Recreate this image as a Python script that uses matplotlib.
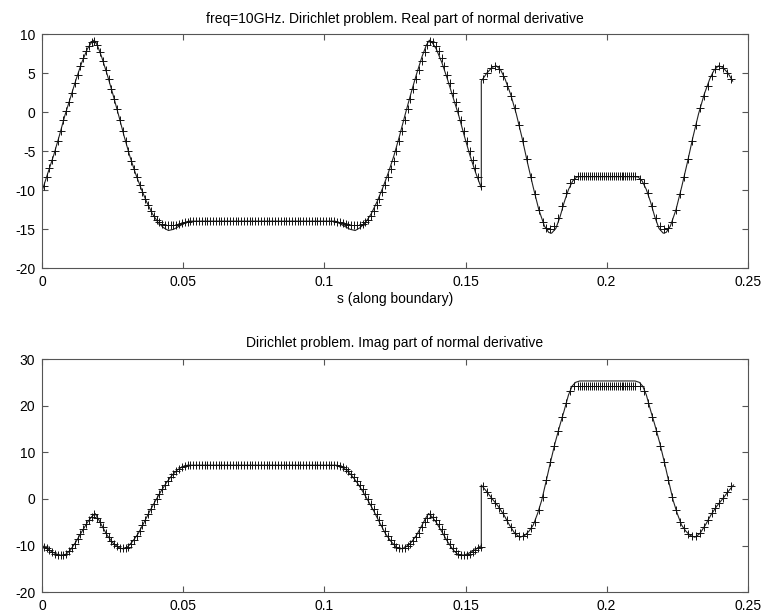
import numpy as np
import matplotlib
matplotlib.use("Agg")
import matplotlib.pyplot as plt

plt.rcParams['font.family'] = ['Liberation Sans', 'DejaVu Sans']
plt.rcParams['axes.unicode_minus'] = False

# ---------------------------------------------------------------------------
# Reference (continuous) solution: knots along the boundary coordinate s
# ---------------------------------------------------------------------------
line_s_re = [0, .002, .004, .006, .008, .010, .012, .014, .016, .0175, .0184, .0195,
             .021, .023, .025, .027, .029, .031, .033, .035, .037, .039,
             .041, .043, .0447, .0465, .048, .050, .0518,
             .1038, .1056, .1076, .1091, .1109, .1126, .1146, .1166, .1186, .1206,
             .1226, .1246, .1266, .1286, .1306, .1326, .1346, .1361, .1372, .1381,
             .1396, .1416, .1436, .1456, .1476, .1496, .1516, .1536, .1556,
             .1556, .1575, .1595, .161, .1625, .164, .166, .168, .170, .172,
             .174, .176, .178, .1795, .1805, .182, .1835, .185, .1865, .188, .1894, .1905,
             .2101, .2112, .2126, .2141, .2156, .2171, .2186, .2201, .2211, .2226,
             .2246, .2266, .2286, .2306, .2326, .2346, .2366, .2381, .2396, .2411, .2431, .2447]
line_re = [-10, -7.75, -5.55, -3.05, -0.4, 1.9, 4.25, 6.4, 8.15, 9.0, 9.25, 8.6,
           7.15, 4.85, 2.35, -0.3, -3.05, -5.6, -7.8, -9.75, -11.5, -13.0,
           -14.1, -14.8, -15.15, -15.0, -14.7, -14.3, -13.95,
           -13.95, -14.3, -14.7, -15.0, -15.15, -14.8, -14.1, -13.0, -11.5, -9.75,
           -7.8, -5.6, -3.05, -0.3, 2.35, 4.85, 7.15, 8.6, 9.25, 9.0,
           8.15, 6.4, 4.25, 1.9, -0.4, -3.05, -5.55, -7.75, -9.7,
           4.0, 5.0, 5.8, 5.95, 5.4, 4.3, 2.3, -0.2, -3.2, -6.5,
           -9.6, -12.5, -14.6, -15.4, -15.5, -14.9, -13.4, -11.5, -9.9, -8.8, -8.3, -8.25,
           -8.25, -8.3, -8.8, -9.9, -11.5, -13.4, -14.9, -15.5, -15.4, -14.6,
           -12.5, -9.6, -6.5, -3.2, -0.2, 2.3, 4.3, 5.4, 5.95, 5.8, 5.0, 4.0]

line_s_im = [0, .002, .004, .0055, .007, .0085, .010, .012, .014, .016,
             .0175, .0187, .0198, .021, .023, .025, .027, .0287, .030, .032,
             .034, .036, .038, .040, .042, .044, .046, .048, .050, .0515,
             .1041, .1056, .1076, .1096, .1116, .1136, .1156, .1176, .1196, .1216,
             .1236, .1256, .1269, .1286, .1306, .1326, .1346, .1358, .1369, .1381,
             .1396, .1416, .1436, .1456, .1471, .1486, .1501, .1516, .1536, .1556,
             .1556, .1575, .1595, .1615, .1635, .1655, .1675, .1693, .171, .1725,
             .174, .1755, .177, .1785, .180, .1817, .1835, .185, .1865, .1878, .189, .1905,
             .2101, .2116, .2128, .2141, .2156, .2171, .2189, .2206, .2221, .2236,
             .2251, .2266, .2281, .2296, .2313, .2331, .2351, .2371, .2391, .2411, .2431, .2450]
line_im = [-10.0, -10.8, -11.5, -11.9, -12.1, -11.8, -10.9, -9.1, -7.0, -5.0,
           -3.8, -3.1, -4.2, -5.6, -7.8, -9.4, -10.4, -10.7, -10.4, -9.1,
           -7.4, -5.1, -2.7, -0.5, 1.6, 3.5, 5.1, 6.3, 7.0, 7.25,
           7.25, 7.0, 6.3, 5.1, 3.5, 1.6, -0.5, -2.7, -5.1, -7.4,
           -9.1, -10.4, -10.7, -10.4, -9.4, -7.8, -5.6, -4.2, -3.1, -3.8,
           -5.0, -7.0, -9.1, -10.9, -11.8, -12.1, -11.9, -11.5, -10.8, -10.0,
           3.0, 1.6, 0.0, -1.5, -3.3, -5.5, -7.4, -8.2, -7.8, -6.9,
           -5.6, -3.2, -0.3, 3.6, 7.6, 11.9, 15.9, 19.0, 22.3, 24.2, 25.0, 25.3,
           25.3, 25.0, 24.2, 22.3, 19.0, 15.9, 11.9, 7.6, 3.6, -0.3,
           -3.2, -5.6, -6.9, -7.8, -8.2, -7.4, -5.5, -3.3, -1.5, 0.0, 1.6, 3.0]

# ---------------------------------------------------------------------------
# Numerical solution at the boundary nodes ('+' markers)
# ---------------------------------------------------------------------------
# first contour: nodes every 1 mm starting at 0.5 mm
node_re_1 = ([-9.4, -8.3, -7.2, -6.1, -5.0, -3.7, -2.4, -1.0, 0.2, 1.3,
              2.5, 3.7, 4.8, 5.9, 6.9, 7.8, 8.5, 9.0, 9.1, 8.6,
              7.7, 6.6, 5.4, 4.3, 3.0, 1.7, 0.4, -1.0, -2.4, -3.7,
              -5.0, -6.2, -7.3, -8.3, -9.3, -10.2, -11.1, -11.9, -12.7, -13.3,
              -13.8, -14.1, -14.3, -14.4, -14.5, -14.5, -14.4, -14.4, -14.3, -14.2,
              -14.1, -14.0]
             + [-13.9] * 52
             + [-14.0, -14.1, -14.2, -14.3, -14.4, -14.4, -14.5, -14.5, -14.4, -14.3,
                -14.1, -13.8, -13.3, -12.7, -11.9, -11.1, -10.2, -9.3, -8.3, -7.3,
                -6.2, -5.0, -3.7, -2.4, -1.0, 0.4, 1.7, 3.0, 4.3, 5.4,
                6.6, 7.7, 8.6, 9.1, 9.0, 8.5, 7.8, 6.9, 5.9, 4.8,
                3.7, 2.5, 1.3, 0.2, -1.0, -2.4, -3.7, -5.0, -6.1, -7.2,
                -8.3, -9.4])
node_im_1 = ([-10.2, -10.6, -11.0, -11.4, -11.7, -11.9, -12.0, -12.0, -11.7, -11.2,
              -10.5, -9.6, -8.6, -7.5, -6.4, -5.4, -4.5, -3.8, -3.3, -4.0,
              -5.0, -6.1, -7.2, -8.1, -8.9, -9.6, -10.1, -10.5, -10.6, -10.5,
              -10.2, -9.6, -8.8, -7.9, -6.8, -5.6, -4.5, -3.3, -2.1, -1.0,
              0.0, 1.1, 2.1, 3.0, 3.9, 4.7, 5.4, 6.0, 6.5, 6.9,
              7.1, 7.2]
             + [7.2] * 52
             + [7.2, 7.1, 6.9, 6.5, 6.0, 5.4, 4.7, 3.9, 3.0, 2.1,
                1.1, 0.0, -1.0, -2.1, -3.3, -4.5, -5.6, -6.8, -7.9, -8.8,
                -9.6, -10.2, -10.5, -10.6, -10.5, -10.1, -9.6, -8.9, -8.1, -7.2,
                -6.1, -5.0, -4.0, -3.3, -3.8, -4.5, -5.4, -6.4, -7.5, -8.6,
                -9.6, -10.5, -11.2, -11.7, -12.0, -12.0, -11.9, -11.7, -11.4, -11.0,
                -10.6, -10.2])
node_s_1 = 0.0005 + 0.001 * np.arange(len(node_re_1))

# second contour: coarser nodes on the curved sides, finer on the straight edge
node_re_2 = ([4.3, 5.1, 5.7, 5.9, 5.6, 4.7, 3.4, 2.1, 0.5, -1.6,
              -3.7, -6.0, -8.3, -10.5, -12.5, -14.0, -14.8, -15.0, -14.6, -13.6,
              -12.0, -10.3, -9.1, -8.5]
             + [-8.2] * 30
             + [-8.5, -9.1, -10.3, -12.0, -13.6, -14.6, -15.0, -14.8, -14.0, -12.5,
                -10.5, -8.3, -6.0, -3.7, -1.6, 0.5, 2.1, 3.4, 4.7, 5.6,
                5.9, 5.7, 5.1, 4.3])
node_im_2 = ([2.7, 1.5, 0.2, -0.9, -1.9, -3.1, -4.6, -6.1, -7.3, -8.0,
              -8.0, -7.4, -6.3, -4.9, -2.4, 0.5, 4.1, 7.9, 11.4, 14.6,
              17.6, 20.6, 23.2, 24.2]
             + [24.3] * 30
             + [24.2, 23.2, 20.6, 17.6, 14.6, 11.4, 7.9, 4.1, 0.5, -2.4,
                -4.9, -6.3, -7.4, -8.0, -8.0, -7.3, -6.1, -4.6, -3.1, -1.9,
                -0.9, 0.2, 1.5, 2.7])
node_s_2 = np.concatenate([0.1563 + 0.0014 * np.arange(24),
                           0.1899 + 0.0007 * np.arange(30),
                           0.2120 + 0.0014 * np.arange(24)])

node_s = np.concatenate([node_s_1, node_s_2])
node_re = np.array(node_re_1 + node_re_2)
node_im = np.array(node_im_1 + node_im_2)

xticks = [0, 0.05, 0.1, 0.15, 0.2, 0.25]
xticklabels = ['0', '0.05', '0.1', '0.15', '0.2', '0.25']
yticks_re = [-20, -15, -10, -5, 0, 5, 10]
yticks_im = [-20, -10, 0, 10, 20, 30]

fig = plt.figure(figsize=(7.65, 6.15), dpi=100)
ax1 = fig.add_axes([0.0553, 0.5637, 0.922, 0.3805])
ax2 = fig.add_axes([0.0553, 0.0369, 0.922, 0.3793])

spine_col = '#555555'
for ax, s_line, v_line, v_node, yt, ylim in (
        (ax1, line_s_re, line_re, node_re, yticks_re, (-20, 10)),
        (ax2, line_s_im, line_im, node_im, yticks_im, (-20, 30))):
    ax.plot(s_line, v_line, '-', color='#222222', lw=0.8)
    ax.plot(node_s, v_node, linestyle='none', marker='+', color='#111111',
            markersize=5.8, markeredgewidth=0.7)
    ax.set_xlim(0, 0.25)
    ax.set_ylim(*ylim)
    ax.set_xticks(xticks)
    ax.set_xticklabels(xticklabels)
    ax.set_yticks(yt)
    ax.tick_params(direction='in', length=4, width=0.8, color=spine_col,
                   top=True, right=True, labelsize=10, labelcolor='black')
    ax.tick_params(axis='x', pad=5)
    ax.tick_params(axis='y', pad=5)
    for sp in ax.spines.values():
        sp.set_color(spine_col)
        sp.set_linewidth(0.8)

ax1.set_title('freq=10GHz. Dirichlet problem. Real part of normal derivative',
              fontsize=10, pad=8.5)
ax1.set_xlabel('s (along boundary)', fontsize=10, labelpad=2)
ax2.set_title('Dirichlet problem. Imag part of normal derivative',
              fontsize=10, pad=8.5)

fig.savefig('out.png', dpi=100, facecolor='white')
